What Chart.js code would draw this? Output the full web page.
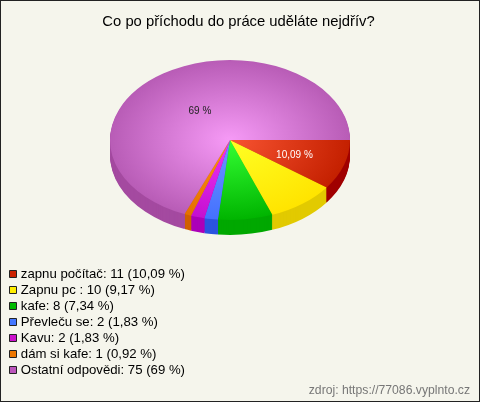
<!DOCTYPE html>
<html>
<head>
<meta charset="utf-8">
<title>Co po příchodu do práce uděláte nejdřív?</title>
<script src="https://cdn.jsdelivr.net/npm/chart.js@4"></script>
<style>
  html, body { margin: 0; padding: 0; background: #f5f5ec; }
  canvas { display: block; }
</style>
</head>
<body>
<canvas id="graf" width="480" height="402"></canvas>
<script>
const titulek = "Co po příchodu do práce uděláte nejdřív?";
const zdroj = "zdroj: https://77086.vyplnto.cz";
const odpovedi = ["zapnu počítač", "Zapnu pc ", "kafe", "Převleču se", "Kavu", "dám si kafe", "Ostatní odpovědi"];
const hlasy = [11, 10, 8, 2, 2, 1, 75];
const procenta = ["10,09", "9,17", "7,34", "1,83", "1,83", "0,92", "69"];
const popisky = ["10,09 %", "", "", "", "", "", "69 %"];
const popiskyBarva = ["#ffffff", "", "", "", "", "", "#222222"];
const popiskyVzdal = [0.565, 0, 0, 0, 0, 0, 0.45];

const barvyLegenda = ["#cc2200", "#ffee00", "#00bb00", "#4477ff", "#cc11cc", "#ee7700", "#bb55bb"];
const barvyStred = ["#f85432", "#ffff24", "#34ff34", "#6c98ff", "#f034f4", "#ff9414", "#f69af6"];
const barvyOkraj = ["#c42000", "#ffe400", "#00b400", "#4470ff", "#c410d0", "#e47000", "#b85cb6"];
const barvyBok = ["#a00000", "#e2ca00", "#00a800", "#2c54e0", "#ac00b8", "#d06000", "#a44aa0"];

const sirka = 480, vyska = 402;
const zplosteni = 2 / 3;
const hloubka = 15;
const polomer = 120;
const pismo = "'Liberation Sans', Arial, sans-serif";

function vyplnSegment(ctx, i) {
  const ca = ctx.chart.chartArea;
  const sx = (ca.left + ca.right) / 2, sy = (ca.top + ca.bottom) / 2;
  const grad = ctx.chart.ctx.createRadialGradient(sx, sy, 0, sx, sy, polomer);
  grad.addColorStop(0, barvyStred[i]);
  grad.addColorStop(1, barvyOkraj[i]);
  return grad;
}

// pozadi a ramecek, presun titulku a legendy mimo oblast kolace
const rozlozeni = {
  id: "rozlozeni",
  afterLayout(chart) {
    const t = chart.titleBlock, l = chart.legend;
    t.left = 0; t.right = sirka - 3; t.width = sirka - 3;
    const sub = chart.boxes.find(b => b.options && b.options.text === zdroj);
    sub.left = 0; sub.right = sirka - 10; sub.width = sirka - 10;
    sub.top = 381; sub.bottom = sub.top + sub.height;
    l.left = 9; l.top = 264.6;
    l.right = l.left + l.width; l.bottom = l.top + l.height;
  },
  beforeDraw(chart) {
    const c = chart.ctx;
    c.save();
    c.fillStyle = "#f5f5ec";
    c.fillRect(0, 0, sirka, vyska);
    c.strokeStyle = "#222222";
    c.strokeRect(0.5, 0.5, sirka - 1, vyska - 1);
    c.restore();
  }
};

// 3D vzhled: bok kolace a splosteni
const kolac3d = {
  id: "kolac3d",
  beforeDatasetsDraw(chart) {
    const c = chart.ctx;
    const oblouky = chart.getDatasetMeta(0).data;
    const cy = oblouky[0].y;
    for (let d = hloubka; d > 0; d--) {
      oblouky.forEach((a, i) => {
        c.save();
        c.translate(0, cy + d);
        c.scale(1, zplosteni);
        c.translate(0, -cy);
        c.fillStyle = barvyBok[i];
        c.beginPath();
        c.moveTo(a.x, a.y);
        c.arc(a.x, a.y, a.outerRadius, a.startAngle, a.endAngle);
        c.closePath();
        c.fill();
        c.restore();
      });
    }
    c.save();
    c.translate(0, cy);
    c.scale(1, zplosteni);
    c.translate(0, -cy);
  },
  afterDatasetsDraw(chart) {
    const c = chart.ctx;
    c.restore();
    const oblouky = chart.getDatasetMeta(0).data;
    c.save();
    c.font = "10px " + pismo;
    c.textAlign = "center";
    c.textBaseline = "middle";
    oblouky.forEach((a, i) => {
      if (!popisky[i]) return;
      const uhel = (a.startAngle + a.endAngle) / 2;
      const r = a.outerRadius * popiskyVzdal[i];
      c.fillStyle = popiskyBarva[i];
      c.fillText(popisky[i], a.x + Math.cos(uhel) * r, a.y + Math.sin(uhel) * r * zplosteni + 1);
    });
    c.restore();
  }
};

new Chart(document.getElementById("graf"), {
  type: "pie",
  data: {
    labels: odpovedi,
    datasets: [{
      data: hlasy,
      borderWidth: 0,
      backgroundColor: ctx => vyplnSegment(ctx, ctx.dataIndex)
    }]
  },
  options: {
    responsive: false,
    animation: false,
    rotation: 90,
    radius: polomer,
    layout: { padding: { left: 110, right: 130, top: 0, bottom: 134.12 } },
    plugins: {
      tooltip: { enabled: false },
      title: {
        display: true,
        text: titulek,
        color: "#000000",
        font: { family: pismo, size: 14.8, weight: "normal" },
        padding: { top: 13, bottom: 0 }
      },
      subtitle: {
        display: true,
        text: zdroj,
        position: "bottom",
        align: "end",
        color: "#777777",
        font: { family: pismo, size: 12.2, weight: "normal" },
        padding: { top: 2, bottom: 2 }
      },
      legend: {
        position: "chartArea",
        align: "start",
        labels: {
          color: "#000000",
          font: { family: pismo, size: 13.2 },
          usePointStyle: true,
          boxWidth: 2.4,
          boxHeight: 7,
          padding: 2.8,
          generateLabels: () => odpovedi.map((o, i) => ({
            text: o + ": " + hlasy[i] + " (" + procenta[i] + " %)",
            fillStyle: barvyLegenda[i],
            strokeStyle: "#222222",
            lineWidth: 1,
            pointStyle: "rect",
            rotation: 0,
            index: i
          }))
        }
      }
    }
  },
  plugins: [rozlozeni, kolac3d]
});
</script>
</body>
</html>
